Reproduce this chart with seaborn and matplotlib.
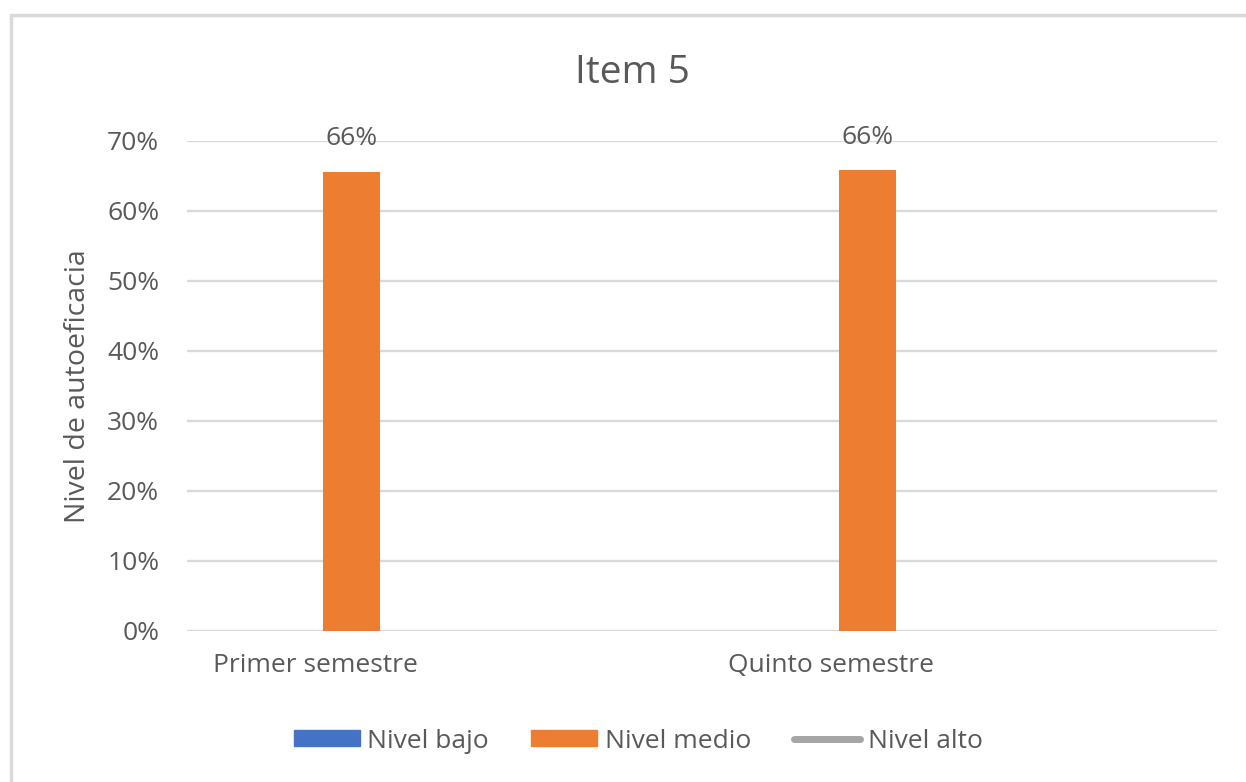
import pandas as pd
import numpy as np
import matplotlib
matplotlib.use('Agg')
import matplotlib.pyplot as plt
import matplotlib.transforms as mtransforms
from matplotlib.lines import Line2D
import seaborn as sns

# Chart data
semestres = ['Primer semestre', 'Quinto semestre']
niveles = ['Nivel bajo', 'Nivel medio', 'Nivel alto']
nivel_bajo = [0.0, 0.0]
nivel_medio = [0.656, 0.658]
nivel_alto = [0.0, 0.0]
colores = ['#4472C4', '#ED7D31', '#A5A5A5']
yticks = [0, 0.1, 0.2, 0.3, 0.4, 0.5, 0.6, 0.7]

df = pd.DataFrame({
    'Semestre': semestres * 3,
    'Nivel': [n for n in niveles for _ in semestres],
    'Valor': nivel_bajo + nivel_medio + nivel_alto,
})

sns.set_theme(style='white')
plt.rcParams['font.family'] = ['Open Sans', 'DejaVu Sans']
text_color = '#595959'

fig = plt.figure(figsize=(12.46, 7.82), dpi=100)
ax = fig.add_axes([187 / 1246, 1 - 630.7 / 782, 1030 / 1246, (630.7 - 141) / 782])

sns.barplot(data=df, x='Semestre', y='Valor', hue='Nivel', hue_order=niveles,
            palette=colores, width=0.331, linewidth=0, saturation=1,
            legend=False, ax=ax, zorder=3)

# Data labels only for the visible series
medio = ax.containers[1]
ax.bar_label(medio, labels=[f'{v:.0%}' for v in nivel_medio], padding=15,
             fontsize=19, color=text_color)

ax.set_ylim(0, 0.7)
ax.set_xlim(-0.319, 1.677)
ax.set_yticks(yticks)
ax.set_yticklabels([f'{t:.0%}' for t in yticks])
ax.yaxis.grid(True, color='#d9d9d9', linewidth=1.7, zorder=0)
ax.set_axisbelow(True)
for s in ax.spines.values():
    s.set_visible(False)
ax.tick_params(axis='y', length=0, pad=20, labelsize=19, labelcolor=text_color)
ax.tick_params(axis='x', length=0, pad=16, labelsize=19, labelcolor=text_color)
shift = mtransforms.ScaledTranslation(-36.5 / 100, 0, fig.dpi_scale_trans)
for lbl in ax.get_xticklabels():
    lbl.set_transform(lbl.get_transform() + shift)
ax.set_xlabel('')
ax.set_ylabel('Nivel de autoeficacia', fontsize=20.5, color=text_color, labelpad=11)

fig.text(632 / 1246, 1 - 73 / 782, 'Item 5', ha='center', va='center',
         fontsize=28, color=text_color)

handles = [
    plt.Rectangle((0, 0), 1, 1, color=colores[0]),
    plt.Rectangle((0, 0), 1, 1, color=colores[1]),
    Line2D([0], [0], color=colores[2], linewidth=5, solid_capstyle='round'),
]
fig.legend(handles, niveles, loc='center', bbox_to_anchor=(638 / 1246, 1 - 741 / 782),
           ncol=3, frameon=False, fontsize=19, labelcolor=text_color,
           handlelength=2.5, handleheight=0.55, handletextpad=0.3, columnspacing=1.6)

# Light frame on top and left edges
fig.add_artist(Line2D([10.5 / 1246, 10.5 / 1246], [0, 1 - 14.5 / 782],
                      transform=fig.transFigure, color='#d9d9d9', linewidth=2.5))
fig.add_artist(Line2D([10.5 / 1246, 1], [1 - 14.5 / 782, 1 - 14.5 / 782],
                      transform=fig.transFigure, color='#d9d9d9', linewidth=2.5))

fig.savefig('out.png', dpi=100, facecolor='white')
